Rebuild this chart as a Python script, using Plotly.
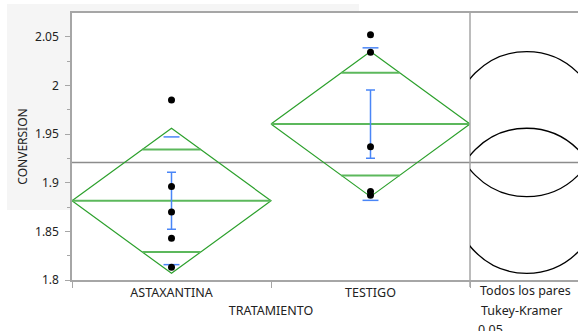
import numpy as np
import plotly.graph_objects as go

# data (JMP oneway plot)
groups = ["ASTAXANTINA", "TESTIGO"]
astaxantina = [1.985, 1.896, 1.870, 1.843, 1.813]
testigo = [2.052, 2.034, 1.937, 1.891, 1.887]
y_ticks = [1.8, 1.85, 1.9, 1.95, 2.0, 2.05]
y_labels = ["1.8", "1.85", "1.9", "1.95", "2", "2.05"]
compare_text = ["Todos los pares", "Tukey-Kramer", "0.05"]
T_CRIT = 2.306  # t(0.975, df=8)

W, H = 578, 331
L, R, T, B = 72, 0, 13, 51
SPLIT = 470
d = (SPLIT - L) / (W - L - R)
FONT = "Noto Sans"
GRAY = "#a6a6a6"
GREEN = "#2ca02c"
GREEN_L = "#5cb85c"
BLUE = "#4a86f7"

data = [np.array(astaxantina), np.array(testigo)]
means = [g.mean() for g in data]
sds = [g.std(ddof=1) for g in data]
ns = [len(g) for g in data]
grand = np.concatenate(data).mean()
sse = sum(((g - g.mean()) ** 2).sum() for g in data)
mse = sse / (sum(ns) - len(data))
ci = [T_CRIT * np.sqrt(mse / n) for n in ns]

fig = go.Figure()

for i, (g, m, s, n, c) in enumerate(zip(data, means, sds, ns, ci)):
    # means diamond
    fig.add_trace(go.Scatter(x=[i - 0.5, i, i + 0.5, i, i - 0.5], y=[m, m + c, m, m - c, m],
                             mode="lines", line=dict(color=GREEN, width=1.2), hoverinfo="skip"))
    fig.add_trace(go.Scatter(x=[i - 0.5, i + 0.5], y=[m, m], mode="lines",
                             line=dict(color=GREEN_L, width=2), hoverinfo="skip"))
    # overlap marks
    h = c / np.sqrt(2)
    hw = 0.5 * (1 - 1 / np.sqrt(2))
    for yy in (m + h, m - h):
        fig.add_trace(go.Scatter(x=[i - hw, i + hw], y=[yy, yy], mode="lines",
                                 line=dict(color=GREEN_L, width=2), hoverinfo="skip"))
    # std dev lines
    for yy in (m + s, m - s):
        fig.add_trace(go.Scatter(x=[i - 0.04, i + 0.04], y=[yy, yy], mode="lines",
                                 line=dict(color=BLUE, width=1.5), hoverinfo="skip"))
    # std error bar
    fig.add_trace(go.Scatter(x=[i], y=[m], mode="markers", marker=dict(size=1, color=BLUE),
                             error_y=dict(type="data", array=[s / np.sqrt(n)], color=BLUE,
                                          thickness=1.5, width=4.5)))
    # observations
    fig.add_trace(go.Scatter(x=[i] * n, y=g, mode="markers",
                             marker=dict(size=7, color="black")))

# dummy trace so the comparison-circle subplot exists
fig.add_trace(go.Scatter(x=[0], y=[grand], xaxis="x2", yaxis="y", mode="markers",
                         marker=dict(size=1, opacity=0), hoverinfo="skip"))

shapes = [
    dict(type="rect", xref="paper", yref="paper", x0=(7 - L) / (W - L), x1=(359 - L) / (W - L),
         y0=(280 - 210) / (280 - T), y1=(280 - 4) / (280 - T), fillcolor="#f5f5f5",
         line=dict(width=0), layer="below"),
    dict(type="rect", xref="paper", yref="paper", x0=0, x1=1, y0=0, y1=1,
         fillcolor="white", line=dict(width=0), layer="below"),
    dict(type="line", xref="paper", yref="y", x0=0, x1=1, y0=grand, y1=grand,
         line=dict(color="#8c8c8c", width=1.5), layer="below"),
    dict(type="line", xref="paper", yref="paper", x0=d, x1=d, y0=-7 / (280 - T), y1=1,
         line=dict(color=GRAY, width=1.5)),
]
for m, c in zip(means, ci):
    shapes.append(dict(type="circle", xref="x2", yref="y", x0=-c, x1=c, y0=m - c, y1=m + c,
                       line=dict(color="black", width=1.3)))

annotations = []
for k, (txt, yc, xl) in enumerate(zip(compare_text, [290.7, 310, 329], [478, 479, 476])):
    annotations.append(dict(text=txt, xref="paper", yref="paper", x=(xl - L) / (W - L),
                            y=(280 - yc) / (280 - T), xanchor="left", yanchor="middle",
                            showarrow=False, font=dict(size=12.5, color="#222")))

ppu = (280 - 36.7) / 0.25  # px per unit on y, used to keep the circles round on x2
x2_left = (526.7 - SPLIT) / ppu
x2_right = (W - 526.7) / ppu

fig.update_layout(
    width=W, height=H,
    margin=dict(l=L, r=R, t=T, b=B),
    paper_bgcolor="white", plot_bgcolor="white",
    font=dict(family=FONT, size=12, color="#222"),
    showlegend=False,
    shapes=shapes,
    annotations=annotations,
    xaxis=dict(domain=[0, d], range=[-0.5, 1.5], tickvals=[0, 1], ticktext=groups,
               ticks="", showline=True, linecolor=GRAY, linewidth=1.5, mirror=True,
               showgrid=False, zeroline=False, automargin=False,
               tickfont=dict(size=12.5),
               minor=dict(tickvals=[-0.5, 0.5, 1.5], ticks="outside", ticklen=6,
                          tickcolor=GRAY, tickwidth=1),
               title=dict(text="TRATAMIENTO", standoff=6, font=dict(size=12.5))),
    xaxis2=dict(domain=[d, 1], range=[-x2_left, x2_right], anchor="y", showticklabels=False,
                ticks="", showline=True, linecolor=GRAY, linewidth=1.5, mirror=True,
                showgrid=False, zeroline=False),
    yaxis=dict(range=[1.8, 2.05 + (36.7 - 13) / ppu], tickvals=y_ticks, ticktext=y_labels,
               ticks="outside", ticklen=5, tickcolor=GRAY, showline=True, linecolor=GRAY,
               linewidth=1.5, showgrid=False, zeroline=False, ticklabelstandoff=4,
               automargin=False,
               minor=dict(dtick=0.025, tick0=1.8, ticks="outside", ticklen=3, tickcolor=GRAY),
               title=dict(text="CONVERSION", standoff=5, font=dict(size=12))),
)

fig.write_html("out.html", config={"displayModeBar": False},
               post_script="document.body.style.margin='0';")
